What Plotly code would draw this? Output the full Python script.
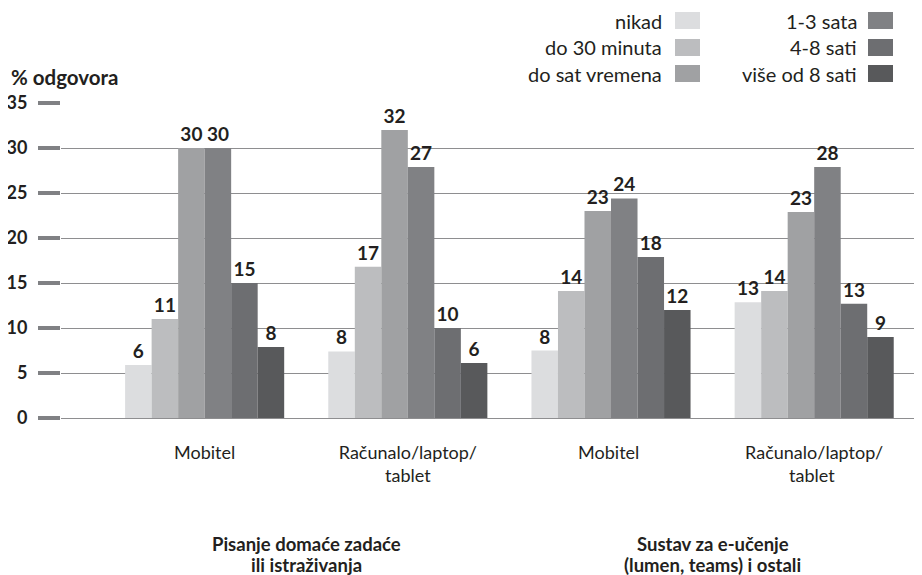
import plotly.graph_objects as go

categories = ["Mobitel", "Računalo/laptop/<br>tablet", "Mobitel ", "Računalo/laptop/<br>tablet "]
group_labels = ["Pisanje domaće zadaće<br>ili istraživanja", "Sustav za e-učenje<br>(lumen, teams) i ostali"]
series_names = ["nikad", "do 30 minuta", "do sat vremena", "1-3 sata", "4-8 sati", "više od 8 sati"]
colors = ["#dcdddf", "#bcbdbf", "#a0a1a3", "#808184", "#6d6e71", "#58595b"]

# bar heights (per series, across the 4 categories)
nikad = [5.9, 7.4, 7.5, 12.85]
do_30_minuta = [11.0, 16.8, 14.1, 14.1]
do_sat_vremena = [30.0, 32.0, 23.0, 22.9]
sata_1_3 = [30.0, 27.9, 24.4, 27.9]
sati_4_8 = [15.0, 10.0, 17.9, 12.7]
vise_od_8 = [7.9, 6.1, 12.0, 9.0]
values = [nikad, do_30_minuta, do_sat_vremena, sata_1_3, sati_4_8, vise_od_8]

# printed data labels
labels = [
    [6, 8, 8, 13],
    [11, 17, 14, 14],
    [30, 32, 23, 23],
    [30, 27, 24, 28],
    [15, 10, 18, 13],
    [8, 6, 12, 9],
]

y_ticks = [0, 5, 10, 15, 20, 25, 30, 35]

FONT = "Lato"
TXT = "#231f20"

fig = go.Figure()
for name, vals, labs, col in zip(series_names, values, labels, colors):
    fig.add_trace(go.Bar(
        x=categories, y=vals, name=name,
        marker=dict(color=col, line=dict(width=0)),
        text=[str(v) for v in labs], textposition="outside",
        textfont=dict(family=FONT, size=19, color=TXT, weight="bold"),
        cliponaxis=False, showlegend=False,
    ))

# page offset (body margin) compensation
OFF = 8
W, H = 922, 575
plot_left, plot_right, plot_top, plot_bottom = 61, 930, 103, 418  # screen px
ml = plot_left - OFF
mt = plot_top - OFF
mr = W - (plot_right - OFF)
mb = H - (plot_bottom - OFF)
pw, ph = W - ml - mr, H - mt - mb

def px(x):
    return (x - plot_left) / pw

def py(y):
    return (plot_bottom - y) / ph

fig.update_layout(
    width=W, height=H,
    margin=dict(l=ml, r=mr, t=mt, b=mb, autoexpand=False),
    barmode="group", bargap=0.217, bargroupgap=0,
    plot_bgcolor="white", paper_bgcolor="white",
    font=dict(family=FONT, size=18, color=TXT),
)
fig.update_xaxes(
    type="category", range=[-0.707, 3.57],
    showgrid=False, zeroline=False, showline=False,
    ticks="", ticklabelstandoff=22,
    tickfont=dict(family=FONT, size=18, color=TXT),
)
fig.update_yaxes(
    range=[0, 35], tickvals=y_ticks,
    showgrid=True, gridcolor="#8e8e90", gridwidth=1.2,
    zeroline=True, zerolinecolor="#8e8e90", zerolinewidth=1.2,
    ticks="outside", ticklen=22, tickwidth=4, tickcolor="#808184",
    ticklabelstandoff=7,
    tickfont=dict(family=FONT, size=18, color=TXT, weight="bold"),
)

annotations = [
    dict(text="% odgovora", xref="paper", yref="paper", x=px(9), y=py(77),
         xanchor="left", yanchor="middle", showarrow=False,
         font=dict(family=FONT, size=20.5, color=TXT, weight="bold")),
]
group_line_y = [544, 565]
for i, g in enumerate(group_labels):
    for line, yl in zip(g.split("<br>"), group_line_y):
        annotations.append(dict(
            text=line, xref="x", yref="paper", x=2 * i + 0.5, y=py(yl),
            xanchor="center", yanchor="middle", showarrow=False,
            font=dict(family=FONT, size=18.5, color=TXT, weight="bold")))

shapes = []
row_y = [20.5, 47.5, 73.5]
cols = [(664, 675, 700), (859, 868, 893)]
for i, (name, col) in enumerate(zip(series_names, colors)):
    c = i // 3
    r = i % 3
    tx, sx0, sx1 = cols[c]
    yc = row_y[r]
    annotations.append(dict(
        text=name, xref="paper", yref="paper", x=px(tx), y=py(yc),
        xanchor="right", yanchor="middle", showarrow=False,
        font=dict(family=FONT, size=20, color=TXT)))
    shapes.append(dict(type="rect", xref="paper", yref="paper",
                       x0=px(sx0), x1=px(sx1), y0=py(yc - 8.5), y1=py(yc + 8.5),
                       fillcolor=col, line=dict(width=0)))

fig.update_layout(annotations=annotations, shapes=shapes)
fig.write_html("out.html")
